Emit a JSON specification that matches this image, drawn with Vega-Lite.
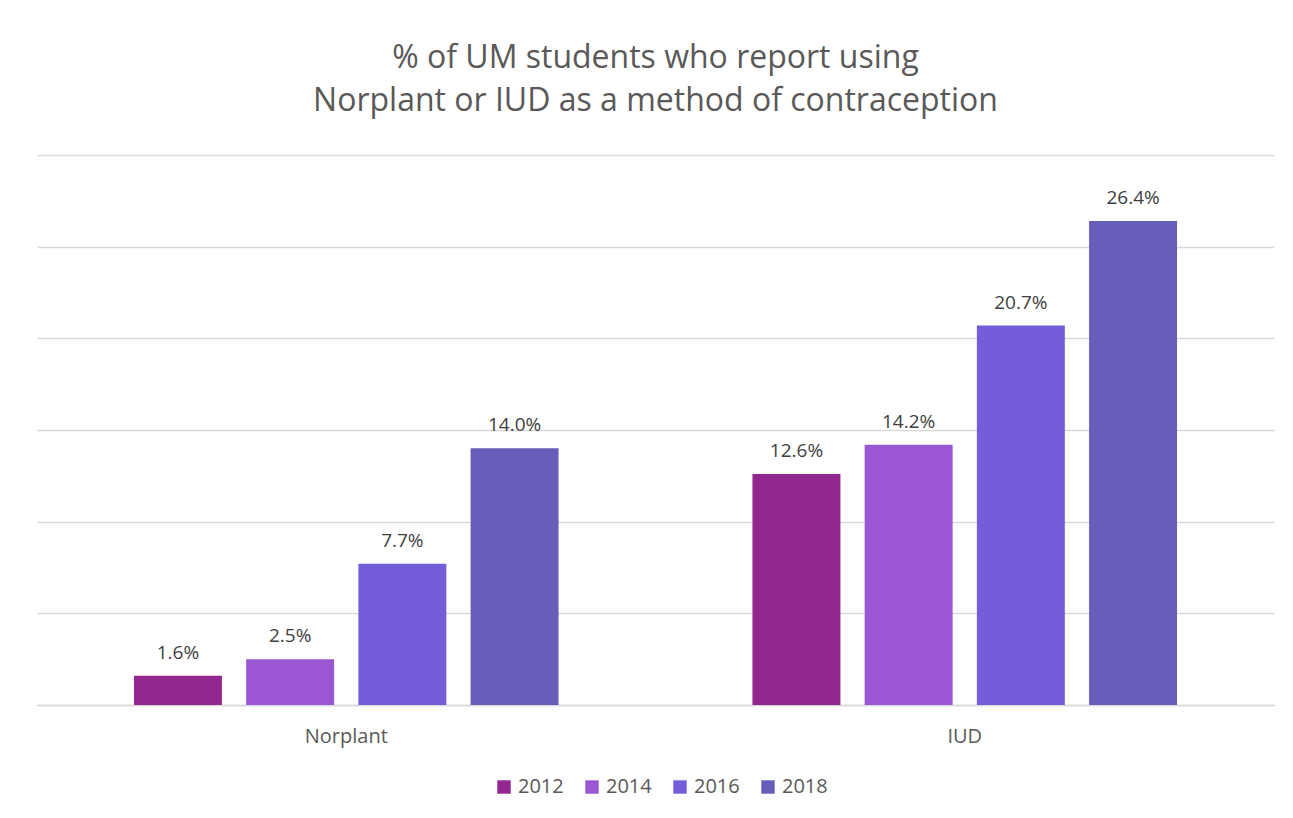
{
  "$schema": "https://vega.github.io/schema/vega-lite/v6.json",
  "width": 1237,
  "height": 550,
  "autosize": {"type": "none"},
  "padding": {"left": 37, "top": 155, "right": 19, "bottom": 113},
  "background": "white",
  "title": {
    "text": ["% of UM students who report using", "Norplant or IUD as a method of contraception"],
    "font": "Open Sans",
    "fontSize": 32,
    "fontWeight": "normal",
    "color": "#595959",
    "anchor": "middle",
    "lineHeight": 43,
    "offset": 37
  },
  "config": {"view": {"stroke": null}},
  "data": {
    "values": [
      {"method": "Norplant", "year": "2012", "pct": 0.016},
      {"method": "Norplant", "year": "2014", "pct": 0.025},
      {"method": "Norplant", "year": "2016", "pct": 0.077},
      {"method": "Norplant", "year": "2018", "pct": 0.140},
      {"method": "IUD", "year": "2012", "pct": 0.126},
      {"method": "IUD", "year": "2014", "pct": 0.142},
      {"method": "IUD", "year": "2016", "pct": 0.207},
      {"method": "IUD", "year": "2018", "pct": 0.264}
    ]
  },
  "encoding": {
    "x": {
      "field": "method",
      "type": "nominal",
      "sort": ["Norplant", "IUD"],
      "scale": {"paddingInner": 0, "paddingOuter": 0},
      "axis": {
        "title": null,
        "labelAngle": 0,
        "labelFont": "Open Sans",
        "labelFontSize": 20,
        "labelColor": "#595959",
        "labelPadding": 21,
        "ticks": false,
        "domainColor": "#D9D9D9",
        "domainWidth": 1.5
      }
    },
    "xOffset": {
      "field": "year",
      "type": "nominal",
      "scale": {"paddingInner": 0.216, "paddingOuter": 0.864}
    },
    "y": {
      "field": "pct",
      "type": "quantitative",
      "scale": {"domain": [0, 0.3]},
      "axis": {
        "title": null,
        "labels": false,
        "ticks": false,
        "domain": false,
        "values": [0, 0.05, 0.1, 0.15, 0.2, 0.25, 0.3],
        "gridColor": "#D9D9D9",
        "gridWidth": 1.3
      }
    }
  },
  "layer": [
    {
      "mark": {"type": "bar"},
      "encoding": {
        "color": {
          "field": "year",
          "type": "nominal",
          "scale": {"domain": ["2012", "2014", "2016", "2018"], "range": ["#92278F", "#9B57D3", "#755DD9", "#665EB8"]},
          "legend": {
            "title": null,
            "orient": "none",
            "legendX": 457,
            "legendY": 622,
            "direction": "horizontal",
            "symbolType": "square",
            "symbolSize": 180,
            "symbolStrokeWidth": 0,
            "labelFont": "Open Sans",
            "labelFontSize": 20,
            "labelColor": "#595959",
            "columnPadding": 18
          }
        }
      }
    },
    {
      "mark": {"type": "text", "baseline": "bottom", "dy": -13, "font": "Open Sans", "fontSize": 19, "color": "#404040"},
      "encoding": {
        "text": {"field": "pct", "type": "quantitative", "format": ".1%"}
      }
    }
  ]
}
